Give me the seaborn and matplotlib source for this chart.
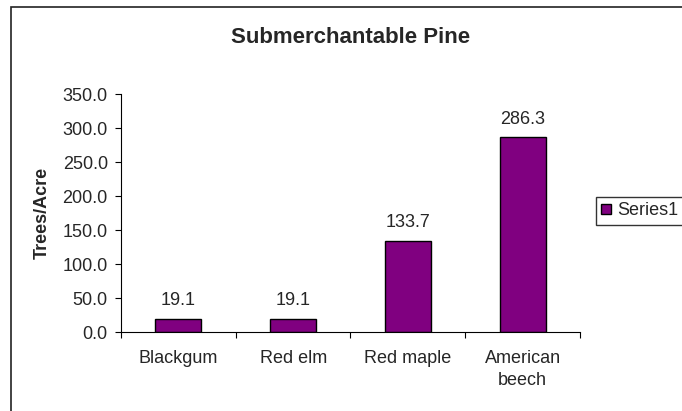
import matplotlib
matplotlib.use("Agg")
import matplotlib.pyplot as plt
from matplotlib.patches import Rectangle, Patch
import seaborn as sns
import pandas as pd

species = ["Blackgum", "Red elm", "Red maple", "American\nbeech"]
trees_per_acre = [19.1, 19.1, 133.7, 286.3]
y_ticks = [0, 50, 100, 150, 200, 250, 300, 350]
series_name = "Series1"
title = "Submerchantable Pine"
y_label = "Trees/Acre"

bar_color = "#800080"

sns.set_theme(style="white")
plt.rcParams["font.family"] = ["Liberation Sans", "DejaVu Sans"]

W, H = 682, 411
fig = plt.figure(figsize=(W / 100, H / 100), dpi=100)
fig.patch.set_facecolor("white")

# plot area in pixel terms
left, right, top, bottom = 121, 580, 94, 332
ax = fig.add_axes([left / W, 1 - bottom / H, (right - left) / W, (bottom - top) / H])

df = pd.DataFrame({"species": species, "value": trees_per_acre})
sns.barplot(data=df, x="species", y="value", color=bar_color, width=0.4,
            edgecolor="black", linewidth=1.0, saturation=1, ax=ax)

ax.set_ylim(0, 350)
ax.set_xlim(-0.5, len(species) - 0.5)
ax.set_yticks(y_ticks)
ax.set_yticklabels([f"{v:.1f}" for v in y_ticks], fontsize=13)

# category separators as ticks, labels centred between them
ax.set_xticks([i - 0.5 for i in range(len(species) + 1)])
ax.set_xticklabels([])
ax.set_xticks(range(len(species)), minor=True)
ax.set_xticklabels(species, minor=True, fontsize=13, linespacing=1.35)
ax.tick_params(axis="x", which="major", direction="out", length=4, width=0.8,
               color="black", bottom=True)
ax.tick_params(axis="x", which="minor", length=0, pad=13, bottom=True)
ax.tick_params(axis="y", direction="out", length=4.5, width=0.8, color="black",
               left=True, pad=5)

for side in ["top", "right"]:
    ax.spines[side].set_visible(False)
for side in ["left", "bottom"]:
    ax.spines[side].set_color("black")
    ax.spines[side].set_linewidth(0.8)

ax.set_xlabel("")
ax.set_ylabel("")

for container in ax.containers:
    ax.bar_label(container, labels=[f"{v:.1f}" for v in trees_per_acre],
                 padding=7, fontsize=13)

fig.text(351 / W, 1 - 43 / H, title, ha="center", va="baseline",
         fontsize=16, fontweight="bold")
fig.text(42.5 / W, 1 - 213 / H, y_label, ha="center", va="center",
         rotation=90, fontsize=13, fontweight="bold")

# chart area border
fig.add_artist(Rectangle((11 / W, -0.2), 2.0, 1.2 - 7 / H, transform=fig.transFigure,
                         fill=False, edgecolor="#222222", linewidth=1.2))

handle = Patch(facecolor=bar_color, edgecolor="black", linewidth=1.0)
fig.legend([handle], [series_name], loc="upper left",
           bbox_to_anchor=(596 / W, 1 - 197 / H), bbox_transform=fig.transFigure,
           borderaxespad=0, frameon=True, fancybox=False, edgecolor="#333333",
           framealpha=1, fontsize=13, handlelength=0.55, handleheight=0.55,
           handletextpad=0.35, borderpad=0.3)

fig.savefig("out.png", dpi=100)
